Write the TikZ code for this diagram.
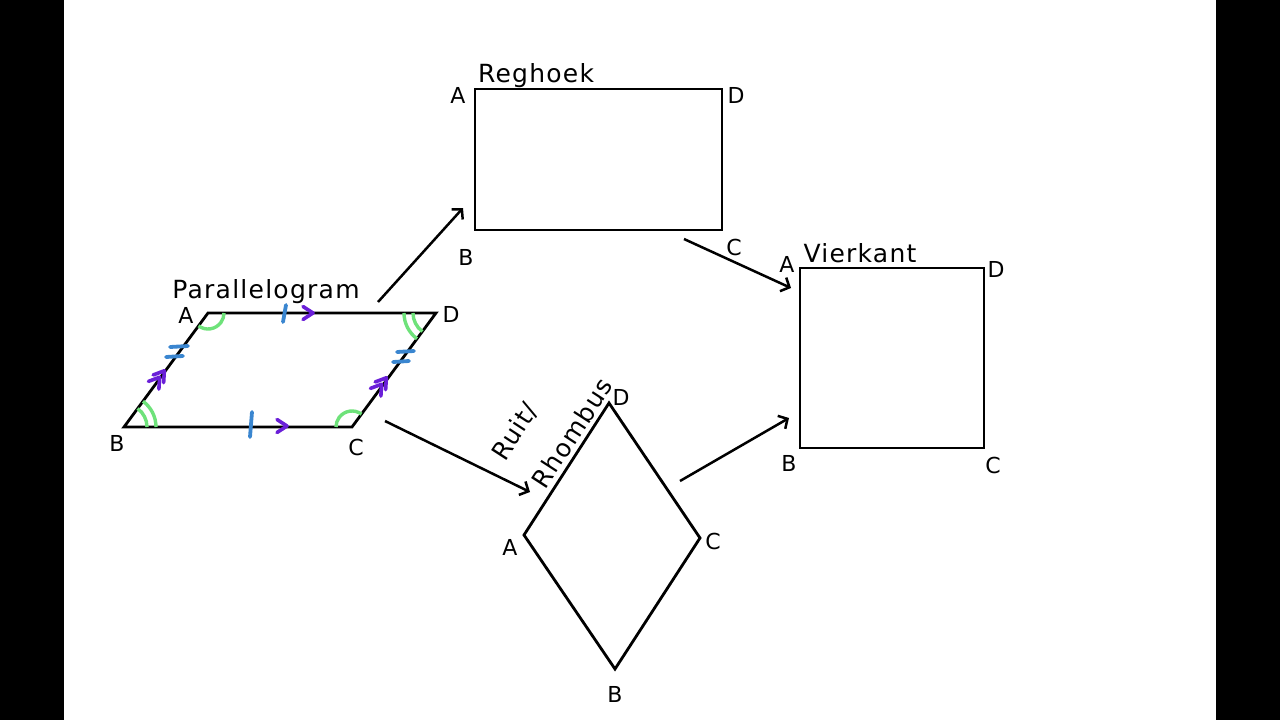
\documentclass[tikz,border=0pt]{standalone}
\usepackage{fontspec}
\setmainfont{DejaVu Sans}
\newfontfamily\titlefont{DejaVu Sans}[LetterSpace=5]
\usetikzlibrary{arrows.meta,angles}

\definecolor{tickblue}{RGB}{58,134,208}
\definecolor{chevpurple}{RGB}{106,31,216}
\definecolor{anglegreen}{RGB}{110,226,122}

\tikzset{
  shapeline/.style={line width=2.8pt, line join=miter},
  vlabel/.style={font=\fontsize{22}{26}\selectfont, inner sep=0pt},
  shapetitle/.style={font=\titlefont\fontsize{25}{30}\selectfont, inner sep=0pt, anchor=base},
  arr/.style={line width=2.5pt, -{Straight Barb[length=7pt,width=15pt,line width=2.5pt]}},
  tickmark/.style={tickblue, line width=3.8pt, line cap=round},
  chevron/.style={chevpurple, line width=3.6pt, line cap=round, line join=round},
  anglemark/.style={draw=anglegreen, line width=3.4pt, angle radius=#1},
  chev/.pic={\draw[chevron] (-5,6.5) -- (5,0) -- (-5,-6.5);},
  dblchev/.pic={\draw[chevron] (-9,6.5) -- (1,0) -- (-9,-6.5) (-1,6.5) -- (9,0) -- (-1,-6.5);},
}

\begin{document}
\begin{tikzpicture}[x=1pt, y=1pt]
  \useasboundingbox (0,0) rectangle (1280,-720);
  \fill[black] (0,0) rectangle (64,-720);
  \fill[black] (1216,0) rectangle (1280,-720);

  % parallelogram
  \coordinate (pA) at (208,-313); \coordinate (pD) at (436,-313);
  \coordinate (pC) at (352,-427); \coordinate (pB) at (124,-427);
  \draw[shapeline] (pA) -- (pD) -- (pC) -- (pB) -- cycle;

  \pic[anglemark=16pt] {angle=pB--pA--pD};
  \pic[anglemark=16pt] {angle=pD--pC--pB};
  \pic[anglemark=23pt] {angle=pC--pB--pA};
  \pic[anglemark=32pt] {angle=pC--pB--pA};
  \pic[anglemark=23pt] {angle=pA--pD--pC};
  \pic[anglemark=32pt] {angle=pA--pD--pC};

  \draw[tickmark] (286,-305) -- (283,-322);
  \draw[tickmark] (252,-412) -- (250,-437);
  \draw[tickmark] (170,-347) -- (188,-346) (166,-357) -- (183,-356);
  \draw[tickmark] (397,-352) -- (414,-351) (393,-362) -- (409,-361);
  \pic at (308,-313) {chev};
  \pic at (282,-426) {chev};
  \pic[rotate=53.6] at (159,-378) {dblchev};
  \pic[rotate=53.6] at (381,-385) {dblchev};

  \node[shapetitle] (ptitle) at (266,-298) {Parallelogram};
  \node[vlabel] (plA) at (186,-315) {A};
  \node[vlabel] (plD) at (451,-314) {D};
  \node[vlabel] (plB) at (117,-443) {B};
  \node[vlabel] (plC) at (356,-447) {C};

  % rectangle
  \draw[shapeline] (475,-89) rectangle (722,-230);
  \node[shapetitle] (rtitle) at (536,-82) {Reghoek};
  \node[vlabel] (rlA) at (458,-95) {A};
  \node[vlabel] (rlD) at (736,-95) {D};
  \node[vlabel] (rlB) at (466,-257) {B};
  \node[vlabel] (rlC) at (734,-247) {C};

  % square
  \draw[shapeline] (800,-268) rectangle (984,-448);
  \node[shapetitle] (stitle) at (860,-262) {Vierkant};
  \node[vlabel] (slA) at (787,-264) {A};
  \node[vlabel] (slD) at (996,-269) {D};
  \node[vlabel] (slB) at (789,-463) {B};
  \node[vlabel] (slC) at (993,-465) {C};

  % rhombus
  \draw[shapeline] (609,-403) -- (700,-538) -- (615,-669) -- (524,-535) -- cycle;
  \node[shapetitle, anchor=center, rotate=57] (htitle1) at (515,-432) {Ruit/};
  \node[shapetitle, anchor=center, rotate=57] (htitle2) at (572,-433) {Rhombus};
  \node[vlabel] (hlD) at (621,-397) {D};
  \node[vlabel] (hlC) at (713,-541) {C};
  \node[vlabel] (hlA) at (510,-547) {A};
  \node[vlabel] (hlB) at (615,-694) {B};

  % arrows
  \coordinate (a1s) at (378,-302); \coordinate (a1e) at (463,-208);
  \coordinate (a2s) at (385,-421); \coordinate (a2e) at (530,-492);
  \coordinate (a3s) at (684,-239); \coordinate (a3e) at (791,-288);
  \coordinate (a4s) at (680,-481); \coordinate (a4e) at (789,-418);
  \draw[arr] (a1s) -- (a1e);
  \draw[arr] (a2s) -- (a2e);
  \draw[arr] (a3s) -- (a3e);
  \draw[arr] (a4s) -- (a4e);
\end{tikzpicture}
\end{document}
